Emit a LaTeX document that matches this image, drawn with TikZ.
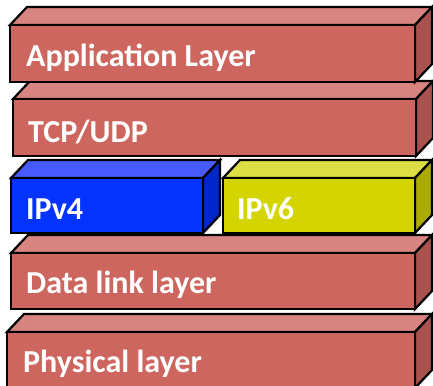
\documentclass[tikz,border=0pt]{standalone}
\usepackage{fontspec}
\setmainfont{Carlito}

\definecolor{redfront}{HTML}{CD665F}
\definecolor{redtop}{HTML}{D88582}
\definecolor{redside}{HTML}{AA524D}
\definecolor{bluefront}{HTML}{0433FF}
\definecolor{bluetop}{HTML}{485AFF}
\definecolor{blueside}{HTML}{0326CC}
\definecolor{yellowfront}{HTML}{D4D400}
\definecolor{yellowtop}{HTML}{DDDD44}
\definecolor{yellowside}{HTML}{AAAA00}

\tikzset{
  face/.style={draw=black, line width=2.2pt, line join=miter},
  lbl/.style={text=white, font=\fontsize{32}{32}\selectfont\bfseries,
              inner sep=0pt, anchor=base west}
}

% depth of the extruded boxes (right, up)
\newcommand\slabdx{17}
\newcommand\slabdy{18}

% #1 name, #2 #3 front top-left, #4 #5 front bottom-right,
% #6 colour set, #7 #8 text position (base west), #9 text
\newcommand\slab[9]{%
  \filldraw[face, fill=#6top] (#2,#3) -- ({#2+\slabdx},{#3-\slabdy})
     -- ({#4+\slabdx},{#3-\slabdy}) -- (#4,#3) -- cycle;
  \filldraw[face, fill=#6side] (#4,#3) -- ({#4+\slabdx},{#3-\slabdy})
     -- ({#4+\slabdx},{#5-\slabdy}) -- (#4,#5) -- cycle;
  \filldraw[face, fill=#6front] (#2,#3) rectangle (#4,#5);
  \node[lbl] (#1) at (#7,#8) {#9};
}

\begin{document}
\begin{tikzpicture}[x=1pt, y=-1pt]
  \useasboundingbox (0,0) rectangle (433,385);
  \fill[white] (0,0) rectangle (433,385);
  \clip (0,0) rectangle (433,385);

  \slab{phy}{7}{332}{415}{388}{red}{23}{372}{Physical layer}
  \slab{dll}{11}{253}{415}{309}{red}{26}{293}{Data link layer}
  \slab{ipv6}{223}{178}{415}{233}{yellow}{237}{219}{IPv6}
  \slab{ipv4}{11}{178}{203}{233}{blue}{26}{219}{IPv4}
  \slab{tcp}{13}{99}{416}{156}{red}{28}{142}{TCP/UDP}
  \slab{app}{10}{25}{415}{82}{red}{26}{67}{Application Layer}
\end{tikzpicture}
\end{document}
